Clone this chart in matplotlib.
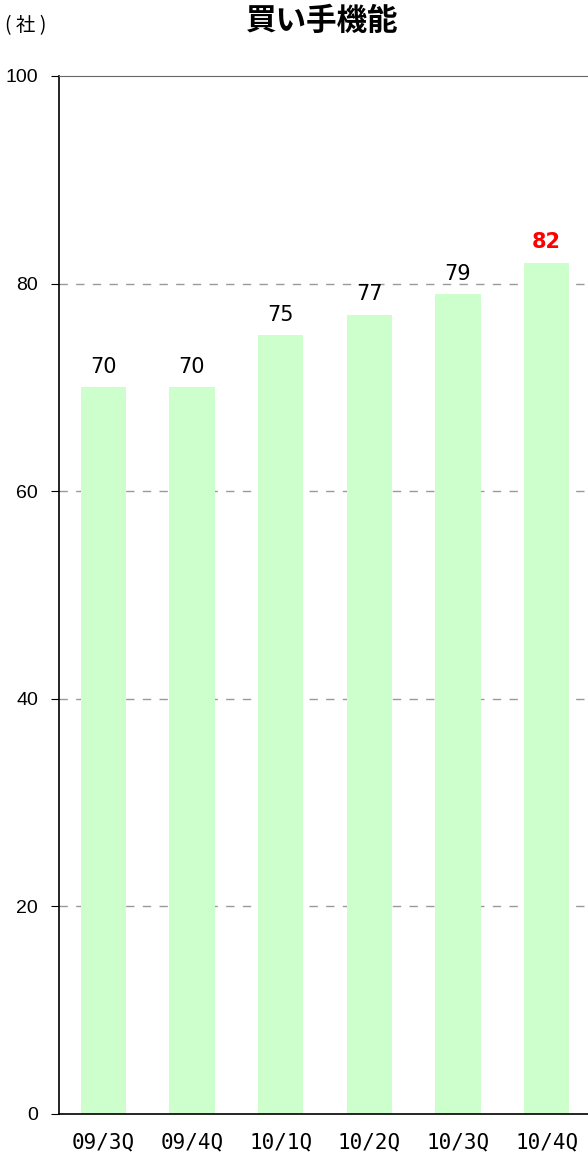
import matplotlib.pyplot as plt

# data
categories = ["09/3Q", "09/4Q", "10/1Q", "10/2Q", "10/3Q", "10/4Q"]
values = [70, 70, 75, 77, 79, 82]
title = "買い手機能"
unit = "( 社 )"

jp = ["Noto Sans CJK JP", "DejaVu Sans"]

fig = plt.figure(figsize=(5.88, 11.59), dpi=100)
ax = fig.add_axes([59 / 588, 45 / 1159, 532 / 588, 1038 / 1159])

x = range(len(categories))
ax.bar(x, values, width=0.51, color="#ccffcc", zorder=2)

ax.set_xlim(-0.5, len(categories) - 0.5)
ax.set_ylim(0, 100)
ax.set_yticks([0, 20, 40, 60, 80, 100])
ax.tick_params(axis="y", labelsize=14, length=6, direction="out", pad=9)
ax.tick_params(axis="x", length=0, pad=13)
ax.set_xticks(list(x))
ax.set_xticklabels(categories, family="DejaVu Sans Mono", fontsize=15)
for lab in ax.get_yticklabels():
    lab.set_family("Liberation Sans")

for y in [20, 40, 60, 80]:
    ax.axhline(y, color="#999999", linestyle=(0, (6, 6)), linewidth=1, zorder=1)

ax.spines["right"].set_visible(False)
ax.spines["top"].set_color("#666666")
ax.spines["left"].set_linewidth(1.2)
ax.spines["bottom"].set_linewidth(1.2)

for i, v in enumerate(values):
    last = i == len(values) - 1
    ax.text(i, v + 1.0, str(v), ha="center", va="bottom",
            fontsize=15,
            color="red" if last else "black",
            fontweight="bold" if last else "normal",
            family="DejaVu Sans")

fig.text(322 / 588, 1 - 21 / 1159, title, ha="center", va="center",
         fontsize=22, fontweight="bold", family=jp)
fig.text(5 / 588, 1 - 26 / 1159, unit, ha="left", va="center",
         fontsize=14, family=jp)

fig.savefig("out.png", dpi=100)
